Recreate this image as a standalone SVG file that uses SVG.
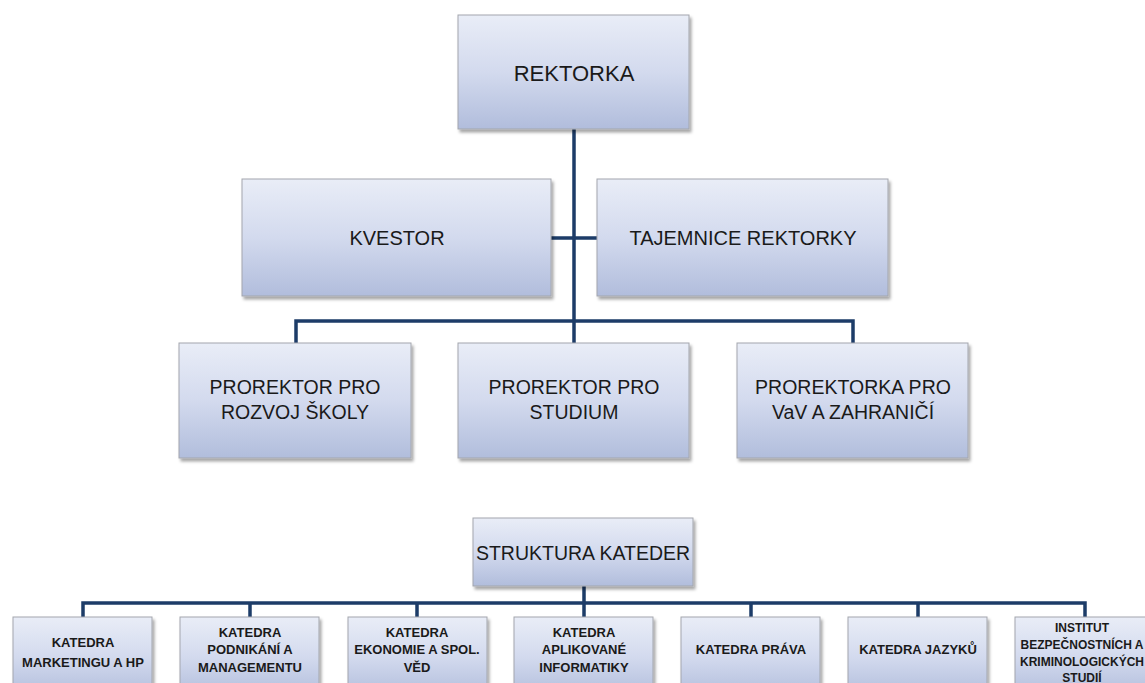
<svg xmlns="http://www.w3.org/2000/svg" width="1145" height="683" viewBox="0 0 1145 683">
<defs>
<linearGradient id="g" x1="0" y1="0" x2="0" y2="1">
<stop offset="0" stop-color="#e9edf7"/>
<stop offset="0.5" stop-color="#d3daee"/>
<stop offset="1" stop-color="#b1bddc"/>
</linearGradient>
<filter id="sh" x="-10%" y="-10%" width="125%" height="130%">
<feDropShadow dx="2" dy="3" stdDeviation="1.5" flood-color="#000" flood-opacity="0.35"/>
</filter>
</defs>
<style>
.box{fill:url(#g);stroke:#a3a6ad;stroke-width:1;filter:url(#sh)}
.t{font-family:"Liberation Sans",Arial,sans-serif;fill:#1a1a1a;text-anchor:middle}
.big{font-size:20px}
.b{font-size:13px;font-weight:bold}
.c{fill:none;stroke:#1d3c68;stroke-width:3.5}
</style>
<rect width="1145" height="683" fill="#fff"/>
<g id="connectors">
<path class="c" d="M574 129V321M551 238H597M296 343V321H853V343M574 321V343"/>
<path class="c" d="M584 586V603M83 617V603H1085V617M250 603V617M417 603V617M584 603V617M751 603V617M918 603V617"/>
</g>
<g id="rektorka"><rect class="box" x="458" y="15" width="231" height="114"/><text class="t" x="574" y="81" font-size="22">REKTORKA</text></g>
<g id="kvestor"><rect class="box" x="242" y="179" width="309" height="117"/><text class="t big" x="397" y="245">KVESTOR</text></g>
<g id="tajemnice"><rect class="box" x="597" y="179" width="291" height="117"/><text class="t big" x="743" y="245">TAJEMNICE REKTORKY</text></g>
<g id="prorektor-rozvoj"><rect class="box" x="179" y="343" width="232" height="115"/><text class="t" font-size="19.5" x="295" y="394">PROREKTOR PRO</text><text class="t" font-size="19.5" x="295" y="419">ROZVOJ ŠKOLY</text></g>
<g id="prorektor-studium"><rect class="box" x="458" y="343" width="231" height="115"/><text class="t" font-size="19.5" x="574" y="394">PROREKTOR PRO</text><text class="t" font-size="19.5" x="574" y="419">STUDIUM</text></g>
<g id="prorektorka-vav"><rect class="box" x="737" y="343" width="231" height="115"/><text class="t" font-size="19.5" x="853" y="394">PROREKTORKA PRO</text><text class="t" font-size="19.5" x="853" y="419">VaV A ZAHRANIČÍ</text></g>
<g id="struktura"><rect class="box" x="473" y="518" width="220" height="68"/><text class="t" font-size="19.5" x="583" y="560">STRUKTURA KATEDER</text></g>
<g id="k-marketing"><rect class="box" x="13" y="617" width="139" height="80"/><text class="t b" x="83" y="647">KATEDRA</text><text class="t b" x="83" y="667">MARKETINGU A HP</text></g>
<g id="k-podnikani"><rect class="box" x="180" y="617" width="139" height="80"/><text class="t b" x="250" y="637">KATEDRA</text><text class="t b" x="250" y="654">PODNIKÁNÍ A</text><text class="t b" x="250" y="672">MANAGEMENTU</text></g>
<g id="k-ekonomie"><rect class="box" x="348" y="617" width="139" height="80"/><text class="t b" x="417" y="637">KATEDRA</text><text class="t b" x="417" y="654">EKONOMIE A SPOL.</text><text class="t b" x="417" y="672">VĚD</text></g>
<g id="k-informatika"><rect class="box" x="514" y="617" width="139" height="80"/><text class="t b" x="584" y="637">KATEDRA</text><text class="t b" x="584" y="654">APLIKOVANÉ</text><text class="t b" x="584" y="672">INFORMATIKY</text></g>
<g id="k-prava"><rect class="box" x="681" y="617" width="139" height="80"/><text class="t b" x="751" y="654">KATEDRA PRÁVA</text></g>
<g id="k-jazyku"><rect class="box" x="848" y="617" width="139" height="80"/><text class="t b" x="918" y="654">KATEDRA JAZYKŮ</text></g>
<g id="institut"><rect class="box" x="1015" y="617" width="139" height="80"/><text class="t" font-size="12" font-weight="bold" x="1082" y="632">INSTITUT</text><text class="t" font-size="12" font-weight="bold" x="1082" y="649">BEZPEČNOSTNÍCH A</text><text class="t" font-size="12" font-weight="bold" x="1082" y="666">KRIMINOLOGICKÝCH</text><text class="t" font-size="12" font-weight="bold" x="1082" y="682">STUDIÍ</text></g>
</svg>
